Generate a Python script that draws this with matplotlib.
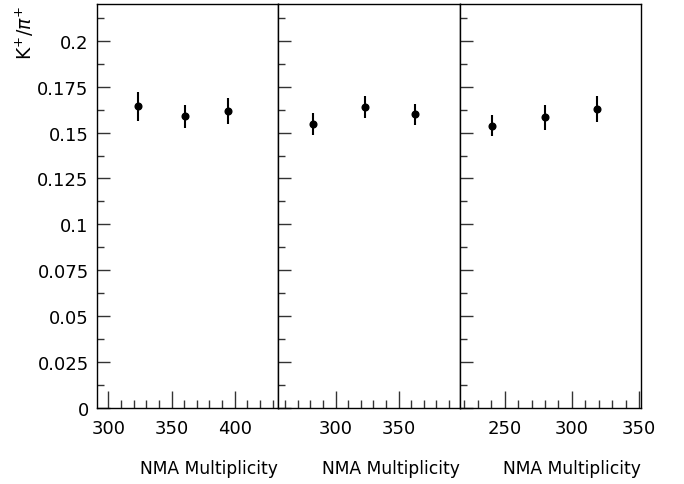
import matplotlib
matplotlib.use("Agg")
import matplotlib.pyplot as plt
from matplotlib.ticker import MultipleLocator

plt.rcParams['font.family'] = ['DejaVu Sans']
plt.rcParams['mathtext.fontset'] = 'dejavusans'

# Data per panel
mult_1 = [323.3, 360.9, 394.8]
ratio_1 = [0.1643, 0.1588, 0.1617]
err_1 = [0.0078, 0.0061, 0.0071]

mult_2 = [282.0, 323.0, 362.7]
ratio_2 = [0.1546, 0.1637, 0.1599]
err_2 = [0.0059, 0.0060, 0.0058]

mult_3 = [240.6, 280.1, 318.9]
ratio_3 = [0.1537, 0.1583, 0.1628]
err_3 = [0.0058, 0.0067, 0.0073]

xlims = [(291, 434.5), (254.5, 398.5), (216.5, 351.5)]
xticks = [[300, 350, 400], [300, 350], [250, 300, 350]]
x_label = "NMA Multiplicity"
y_label = r"$\mathrm{K}^{+}/\pi^{+}$"

panels = [(mult_1, ratio_1, err_1), (mult_2, ratio_2, err_2), (mult_3, ratio_3, err_3)]

fig = plt.figure(figsize=(6.84, 4.85), dpi=100)
left, right, bottom, top = 97/684, 641/684, 1-409/485, 1-5/485
w = (right-left)/3
for i, (x, y, e) in enumerate(panels):
    ax = fig.add_axes([left + i*w, bottom, w, top-bottom])
    ax.errorbar(x, y, yerr=e, fmt='o', color='black', markersize=4.8,
                elinewidth=1.5, capsize=0)
    ax.set_xlim(*xlims[i])
    ax.set_ylim(0, 0.22)
    ax.set_xticks(xticks[i])
    ax.xaxis.set_minor_locator(MultipleLocator(10))
    ax.set_yticks([0, 0.025, 0.05, 0.075, 0.1, 0.125, 0.15, 0.175, 0.2])
    ax.set_yticklabels(['0', '0.025', '0.05', '0.075', '0.1', '0.125', '0.15', '0.175', '0.2'])
    ax.yaxis.set_minor_locator(MultipleLocator(0.0125))
    ax.tick_params(axis='both', which='both', direction='in', top=False, right=False,
                   color='#333333', width=1.0)
    ax.tick_params(axis='x', which='major', length=12, labelsize=13, pad=8)
    ax.tick_params(axis='x', which='minor', length=6)
    ax.tick_params(axis='y', which='major', length=9, labelsize=13, pad=6)
    ax.tick_params(axis='y', which='minor', length=5)
    for sp in ax.spines.values():
        sp.set_linewidth(1.0)
        sp.set_color('black')
    if i > 0:
        ax.tick_params(axis='y', labelleft=False)
    ax.set_xlabel(x_label, fontsize=12.3, loc='right', labelpad=16)

fig.text(25/684, 1-6/485, y_label, rotation=90, ha='center', va='top', fontsize=13.5)

fig.savefig("out.png", dpi=100)
